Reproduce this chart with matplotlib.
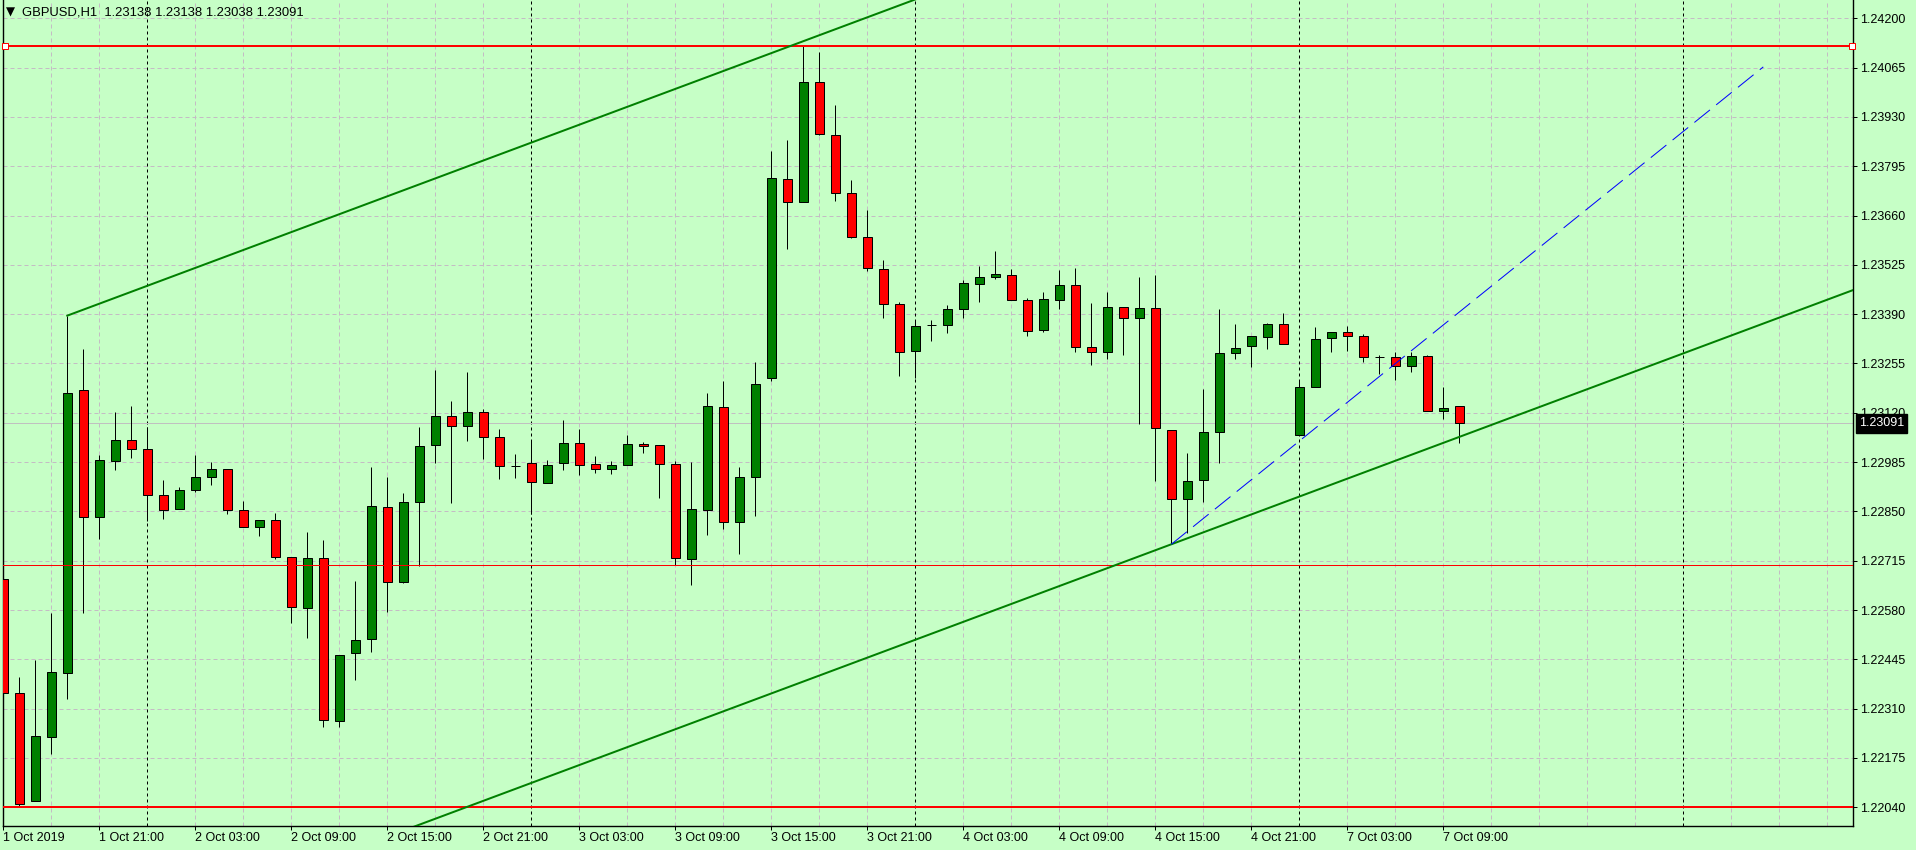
import matplotlib
matplotlib.use("Agg")
import matplotlib.pyplot as plt
from matplotlib.patches import Rectangle

# --- данные H1 GBPUSD, бар 0 = 1 Oct 15:00 ---
opens = [1.22664, 1.22352, 1.22056, 1.22232, 1.22407, 1.23182, 1.22834, 1.22987, 1.23045, 1.23020,
         1.22894, 1.22856, 1.22908, 1.22943, 1.22965, 1.22853, 1.22807, 1.22826, 1.22724, 1.22585,
         1.22722, 1.22275, 1.22462, 1.22500, 1.22861, 1.22658, 1.22875, 1.23031, 1.23110, 1.23083,
         1.23121, 1.23053, 1.22974, 1.22982, 1.22929, 1.22983, 1.23036, 1.22979, 1.22965, 1.22976,
         1.23034, 1.23031, 1.22979, 1.22719, 1.22853, 1.23135, 1.22820, 1.22943, 1.23214, 1.23759,
         1.23696, 1.24025, 1.23880, 1.23721, 1.23600, 1.23513, 1.23417, 1.23288, 1.23360, 1.23360,
         1.23403, 1.23472, 1.23491, 1.23496, 1.23428, 1.23346, 1.23428, 1.23469, 1.23299, 1.23286,
         1.23409, 1.23379, 1.23406, 1.23072, 1.22883, 1.22935, 1.23067, 1.23283, 1.23302, 1.23327,
         1.23362, 1.23058, 1.23190, 1.23324, 1.23340, 1.23329, 1.23272, 1.23272, 1.23247, 1.23275,
         1.23124, 1.23138]
highs = [1.22664, 1.22397, 1.22443, 1.22573, 1.23386, 1.23294, 1.23004, 1.23121, 1.23139, 1.23081,
         1.22936, 1.22916, 1.23004, 1.22985, 1.22965, 1.22879, 1.22826, 1.22846, 1.22724, 1.22794,
         1.22772, 1.22456, 1.22659, 1.22972, 1.22944, 1.22900, 1.23081, 1.23237, 1.23152, 1.23232,
         1.23130, 1.23076, 1.23007, 1.23045, 1.22990, 1.23100, 1.23076, 1.23002, 1.22987, 1.23059,
         1.23039, 1.23031, 1.22987, 1.22985, 1.23173, 1.23207, 1.22971, 1.23259, 1.23837, 1.23867,
         1.24125, 1.24108, 1.23962, 1.23757, 1.23674, 1.23538, 1.23422, 1.23373, 1.23373, 1.23414,
         1.23483, 1.23521, 1.23562, 1.23513, 1.23433, 1.23450, 1.23510, 1.23516, 1.23420, 1.23450,
         1.23409, 1.23492, 1.23497, 1.23072, 1.23009, 1.23185, 1.23404, 1.23362, 1.23329, 1.23365,
         1.23392, 1.23209, 1.23354, 1.23340, 1.23357, 1.23335, 1.23277, 1.23286, 1.23286, 1.23277,
         1.23190, 1.23138]
lows = [1.22233, 1.22044, 1.22056, 1.22186, 1.22336, 1.22573, 1.22775, 1.22964, 1.22997, 1.22825,
        1.22830, 1.22856, 1.22904, 1.22923, 1.22842, 1.22807, 1.22784, 1.22719, 1.22545, 1.22504,
        1.22261, 1.22261, 1.22389, 1.22466, 1.22576, 1.22655, 1.22701, 1.22983, 1.22874, 1.23044,
        1.22994, 1.22940, 1.22942, 1.22842, 1.22929, 1.22964, 1.22951, 1.22956, 1.22953, 1.22976,
        1.23011, 1.22888, 1.22703, 1.22649, 1.22786, 1.22803, 1.22734, 1.22838, 1.23208, 1.23569,
        1.23696, 1.23880, 1.23701, 1.23598, 1.23507, 1.23380, 1.23222, 1.23216, 1.23316, 1.23338,
        1.23379, 1.23422, 1.23485, 1.23428, 1.23329, 1.23340, 1.23403, 1.23286, 1.23250, 1.23267,
        1.23277, 1.23090, 1.22933, 1.22760, 1.22790, 1.22877, 1.22982, 1.23267, 1.23245, 1.23294,
        1.23308, 1.23058, 1.23190, 1.23287, 1.23290, 1.23260, 1.23225, 1.23211, 1.23231, 1.23124,
        1.23102, 1.23038]
closes = [1.22352, 1.22048, 1.22234, 1.22410, 1.23173, 1.22834, 1.22990, 1.23045, 1.23020, 1.22894,
          1.22853, 1.22908, 1.22943, 1.22965, 1.22853, 1.22807, 1.22826, 1.22724, 1.22588, 1.22722,
          1.22278, 1.22456, 1.22497, 1.22864, 1.22656, 1.22875, 1.23028, 1.23110, 1.23083, 1.23121,
          1.23053, 1.22974, 1.22974, 1.22931, 1.22976, 1.23036, 1.22976, 1.22965, 1.22976, 1.23034,
          1.23028, 1.22979, 1.22722, 1.22856, 1.23138, 1.22820, 1.22943, 1.23198, 1.23762, 1.23696,
          1.24025, 1.23882, 1.23721, 1.23600, 1.23516, 1.23417, 1.23286, 1.23357, 1.23360, 1.23403,
          1.23475, 1.23491, 1.23499, 1.23428, 1.23343, 1.23431, 1.23469, 1.23299, 1.23286, 1.23409,
          1.23379, 1.23406, 1.23078, 1.22883, 1.22932, 1.23067, 1.23283, 1.23297, 1.23329, 1.23362,
          1.23308, 1.23190, 1.23321, 1.23340, 1.23329, 1.23272, 1.23272, 1.23247, 1.23275, 1.23124,
          1.23132, 1.23091]

time_labels = ["1 Oct 2019", "1 Oct 21:00", "2 Oct 03:00", "2 Oct 09:00", "2 Oct 15:00",
               "2 Oct 21:00", "3 Oct 03:00", "3 Oct 09:00", "3 Oct 15:00", "3 Oct 21:00",
               "4 Oct 03:00", "4 Oct 09:00", "4 Oct 15:00", "4 Oct 21:00", "7 Oct 03:00",
               "7 Oct 09:00"]
day_starts = [9, 33, 57, 81, 105]          # бары 00:00 -> разделители дней
price_ticks = [1.22040 + 0.00135 * k for k in range(17)]

hlines_thick = [1.24125, 1.22040]          # красные горизонтали
hline_thin = 1.22703
channel_p1 = (4, 1.23386)                  # равноудалённый канал
channel_p2 = (40, 1.23974)
channel_p3 = (73, 1.22760)
trend_p1 = (73, 1.22760)                   # синяя пунктирная трендовая
trend_p2 = (110, 1.24067)

BG = "#C6FFC6"
BULL = "#008000"
BEAR = "#FF0000"
GRID = "#C4BCC4"
PX = 0.72  # 1 пиксель в пунктах

plt.rcParams["font.family"] = ["Liberation Sans", "DejaVu Sans"]

fig = plt.figure(figsize=(19.16, 8.5), dpi=100, facecolor=BG)
ax = fig.add_axes([2.5 / 1916, 24 / 850, 1850 / 1916, 826 / 850], facecolor=BG)
ax.set_xlim(-0.05, 115.575)
ax.set_ylim(1.219888, 1.242501)

# сетка
for p in price_ticks:
    ax.axhline(p, color=GRID, lw=PX, dashes=(4, 3), zorder=1)
for b in range(0, 117, 3):
    if b in day_starts:
        continue
    ax.axvline(b, color=GRID, lw=PX, dashes=(4, 3), zorder=1)
for b in day_starts:
    ax.axvline(b, color="black", lw=PX, dashes=(3, 3), zorder=1.5)

# текущая цена
ax.axhline(closes[-1], color="#C0C0C0", lw=PX, zorder=1.6)

# свечи
w = 0.6
for i, (o, h, l, c) in enumerate(zip(opens, highs, lows, closes)):
    ax.vlines(i, l, h, color="black", lw=PX, zorder=3)
    if abs(c - o) < 1e-7:
        ax.hlines(o, i - w / 2, i + w / 2, color="black", lw=PX, zorder=4)
        continue
    col = BULL if c > o else BEAR
    ax.add_patch(Rectangle((i - w / 2, min(o, c)), w, abs(c - o), facecolor=col,
                           edgecolor="black", lw=PX, zorder=4))

# объекты
for p in hlines_thick:
    ax.axhline(p, color="red", lw=2 * PX, zorder=5)
ax.axhline(hline_thin, color="red", lw=PX, zorder=5)
ytr = ax.get_yaxis_transform()
ax.plot([0.00135, 0.99946], [hlines_thick[0]] * 2, ls="none", marker="s", ms=4,
        mfc="white", mec="red", mew=PX, transform=ytr, zorder=6, clip_on=False)

slope = (channel_p2[1] - channel_p1[1]) / (channel_p2[0] - channel_p1[0])
x_end = 125
ax.plot([channel_p1[0], x_end], [channel_p1[1], channel_p1[1] + slope * (x_end - channel_p1[0])],
        color=BULL, lw=2 * PX, zorder=5)
lo_start = channel_p3[1] + slope * (channel_p1[0] - channel_p3[0])
lo_end = channel_p3[1] + slope * (x_end - channel_p3[0])
ax.plot([channel_p1[0], x_end], [lo_start, lo_end], color=BULL, lw=2 * PX, zorder=5)

ax.plot([trend_p1[0], trend_p2[0]], [trend_p1[1], trend_p2[1]], color="blue", lw=PX,
        dashes=(20, 8), zorder=5)

# оси
for s in ["left", "right", "bottom"]:
    ax.spines[s].set_color("black")
    ax.spines[s].set_linewidth(1.0)
ax.spines["top"].set_visible(False)

ax.yaxis.tick_right()
ax.set_yticks(price_ticks)
ax.set_yticklabels([f"{p:.5f}" for p in price_ticks])
ax.tick_params(axis="y", direction="out", length=2.9, width=PX, pad=2.5, labelsize=9,
               colors="black")
ax.set_xticks(list(range(0, 6 * len(time_labels), 6)))
ax.set_xticklabels(time_labels, ha="left")
ax.tick_params(axis="x", direction="out", length=2.9, width=PX, pad=1.5, labelsize=9,
               colors="black")

ax.annotate(f"{closes[-1]:.5f}", xy=(1, closes[-1]), xycoords=ytr, xytext=(4.7, 0),
            textcoords="offset points", ha="left", va="center", fontsize=9, color="white",
            bbox=dict(boxstyle="square,pad=0.25", fc="black", ec="black"),
            zorder=10, annotation_clip=False)

# заголовок
fig.text(6 / 1916, 1 - 12.5 / 850, "\u25bc", fontsize=8.5, family="DejaVu Sans",
         va="center", ha="left")
fig.text(21.5 / 1916, 1 - 12.7 / 850,
         f"GBPUSD,H1  {opens[-1]:.5f} {highs[-1]:.5f} {lows[-1]:.5f} {closes[-1]:.5f}",
         fontsize=9.4, va="center", ha="left")

fig.savefig("out.png", dpi=100, facecolor=BG)
